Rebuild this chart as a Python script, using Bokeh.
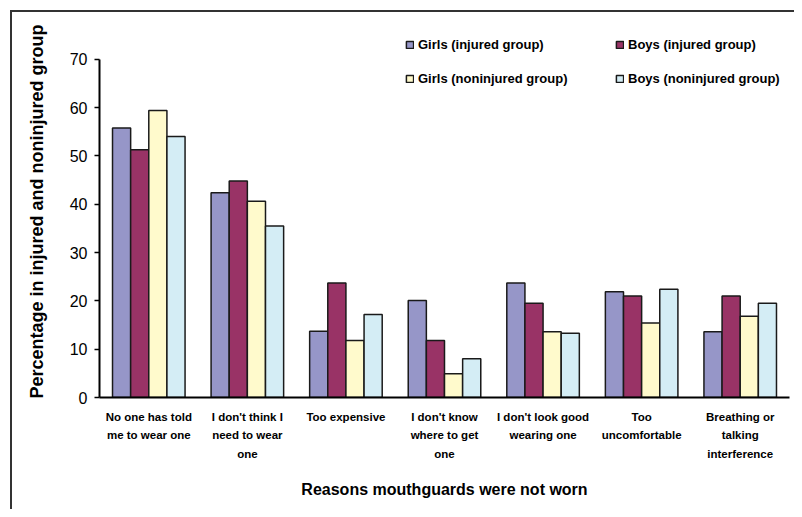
from bokeh.plotting import figure
from bokeh.models import ColumnDataSource, FactorRange, Legend, LegendItem, Range1d, InlineStyleSheet
from bokeh.transform import dodge
from bokeh.embed import file_html
from bokeh.resources import INLINE

categories = [
    "No one has told\nme to wear one",
    "I don't think I\nneed to wear\none",
    "Too expensive",
    "I don't know\nwhere to get\none",
    "I don't look good\nwearing one",
    "Too\nuncomfortable",
    "Breathing or\ntalking\ninterference",
]
girls_injured = [55.8, 42.4, 13.7, 20.1, 23.7, 21.9, 13.6]
boys_injured = [51.3, 44.8, 23.7, 11.8, 19.5, 21.0, 21.0]
girls_noninjured = [59.4, 40.6, 11.8, 4.9, 13.6, 15.4, 16.8]
boys_noninjured = [54.0, 35.5, 17.2, 8.0, 13.3, 22.4, 19.5]
series_names = ["Girls (injured group)", "Boys (injured group)",
                "Girls (noninjured group)", "Boys (noninjured group)"]
y_ticks = [0, 10, 20, 30, 40, 50, 60, 70]

colors = ["#9696C8", "#993366", "#FFFACC", "#D4EDF5"]
keys = ["gi", "bi", "gn", "bn"]
offsets = [-0.276, -0.092, 0.092, 0.276]

source = ColumnDataSource(dict(cat=categories, gi=girls_injured, bi=boys_injured,
                               gn=girls_noninjured, bn=boys_noninjured))

p = figure(width=794, height=509, x_range=FactorRange(*categories),
           y_range=Range1d(0, 77), output_backend="svg", toolbar_location=None,
           min_border_left=99, min_border_right=5, min_border_top=25, min_border_bottom=112)
p.outline_line_color = None
p.xgrid.grid_line_color = None
p.ygrid.grid_line_color = None
p.background_fill_color = "white"
p.border_fill_color = "white"

# chart-area border (left and top edges visible, as in the reference)
p.stylesheets = [InlineStyleSheet(css="""
:host { position: relative; }
:host::after {
  content: "";
  position: absolute;
  left: 10px; top: 10px; right: 0px; bottom: 0px;
  border-left: 2px solid #333333;
  border-top: 2px solid #333333;
  pointer-events: none;
  z-index: 100;
}
""")]

renderers = []
for k, c, off in zip(keys, colors, offsets):
    r = p.vbar(x=dodge("cat", off, range=p.x_range), top=k, width=0.184, bottom=0,
               source=source, fill_color=c, line_color="#1a1a1a", line_width=1.5)
    renderers.append(r)

# column-major order so that rows read: Girls/Boys injured, Girls/Boys noninjured
order = [0, 2, 1, 3]
items = [LegendItem(label=series_names[i], renderers=[renderers[i]]) for i in order]
legend = Legend(items=items, ncols=2, location=(306, 309),
                label_text_font="Liberation Sans", label_text_font_style="bold",
                label_text_font_size="13px", label_text_color="black",
                label_width=183, label_height=20,
                glyph_width=9, glyph_height=9, label_standoff=4, spacing=14,
                border_line_color=None, background_fill_alpha=0, padding=0, margin=0)
p.add_layout(legend, "center")

ya = p.yaxis[0]
ya.bounds = (0, 70)
ya.ticker = y_ticks
ya.axis_line_width = 2
ya.axis_line_color = "black"
ya.major_tick_line_width = 1.5
ya.major_tick_line_color = "black"
ya.major_tick_out = 5
ya.major_tick_in = 0
ya.minor_tick_line_color = None
ya.major_label_text_font = "Liberation Sans"
ya.major_label_text_font_size = "16px"
ya.major_label_text_color = "black"
ya.major_label_standoff = 7
ya.axis_label = "Percentage in injured and noninjured group"
ya.axis_label_text_font = "Liberation Sans"
ya.axis_label_text_font_style = "bold"
ya.axis_label_text_font_size = "18px"
ya.axis_label_text_color = "black"
ya.axis_label_standoff = 20

xa = p.xaxis[0]
xa.axis_line_width = 2
xa.axis_line_color = "black"
xa.major_tick_line_color = None
xa.major_tick_out = 0
xa.minor_tick_line_color = None
xa.major_label_text_font = "Liberation Sans"
xa.major_label_text_font_style = "bold"
xa.major_label_text_font_size = "11.5px"
xa.major_label_text_color = "black"
xa.major_label_text_line_height = 1.55
xa.major_label_standoff = 13
xa.axis_label = "Reasons mouthguards were not worn"
xa.axis_label_text_font = "Liberation Sans"
xa.axis_label_text_font_style = "bold"
xa.axis_label_text_font_size = "16px"
xa.axis_label_text_color = "black"
xa.axis_label_standoff = 18

open("out.html", "w").write(file_html(p, INLINE))
